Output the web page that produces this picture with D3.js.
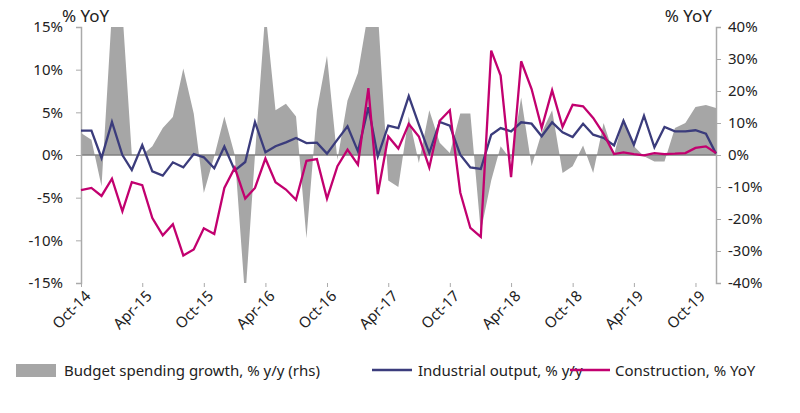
<!DOCTYPE html>
<html>
<head>
<meta charset="utf-8">
<script src="https://cdn.jsdelivr.net/npm/d3@7"></script>
<style>
  body { margin: 0; background: #fff; }
  text { font-family: "Noto Sans", sans-serif; fill: #222; }
</style>
</head>
<body>
<svg id="chart" width="800" height="413"></svg>
<script>
// months Oct-14 .. Dec-19
const months = d3.range(63).map(i => new Date(2014, 9 + i, 1));
const tickLabels = ['Oct-14', 'Apr-15', 'Oct-15', 'Apr-16', 'Oct-16', 'Apr-17', 'Oct-17', 'Apr-18', 'Oct-18', 'Apr-19', 'Oct-19'];

// Industrial output, % y/y (lhs)
const industry = [2.85, 2.85, -0.35, 3.87, 0, -1.76, 1.17, -1.91, -2.42, -0.86, -1.45, 0.12, -0.27, -1.56, 0.98, -1.8,
  -0.82, 3.87, 0.31, 1.02, 1.48, 2.0, 1.4, 1.45, 0.16, 1.8, 3.36, 0.43, 5.6, -0.16, 3.44, 3.16,
  6.9, 3.55, 0.23, 3.87, 3.44, 0.04, -1.45, -1.64, 2.38, 3.16, 2.77, 3.83, 3.67, 2.19, 3.83, 2.66,
  2.1, 3.67, 2.38, 2.0, 1.13, 4.0, 1.2, 4.6, 0.9, 3.28, 2.77, 2.77, 2.9, 2.5, 0.16];

// Construction, % YoY (rhs)
const construction = [-11.0, -10.3, -12.8, -7.4, -17.6, -8.5, -9.4, -19.7, -25.1, -21.6, -31.4, -29.5, -22.9, -24.7, -10.3, -4.0,
  -13.6, -10.3, -1.1, -8.5, -10.8, -14.0, -1.8, -1.3, -13.6, -3.5, 1.7, -3.0, 20.9, -12.2, 5.8, 2.0,
  9.7, 5.8, -3.9, 10.7, 14.0, -11.7, -22.8, -25.6, 32.6, 24.8, -6.9, 29.3, 20.6, 8.4, 20.2, 8.8,
  15.7, 15.2, 11.6, 6.6, 0.3, 0.8, 0.3, -0.1, 0.6, 0.3, 0.4, 0.6, 2.2, 2.7, 0.6];

// Budget spending growth, % y/y (rhs)
const budget = [6.9, 4.8, -9.8, 45, 45, 0, 0, 2.7, 8.4, 11.9, 27, 13, -11.9, -0.4, 12, 0,
  -45, 0, 45, 14, 16, 12, -26, 14, 31, -1.5, 17, 25.6, 45, 45, -8, -10,
  12, -2.5, 14, 3.8, 0.6, 13, 13, -24, -8, 2.7, -1.5, 18, -3.5, 7, 14, -5.6,
  -3.5, 3, -5.6, 10, 0, 11.6, 2.7, -0.4, -2, -2, 8.4, 10, 15, 15.6, 14.7];

const leftTicks = [-15, -10, -5, 0, 5, 10, 15];
const rightTicks = [-40, -30, -20, -10, 0, 10, 20, 30, 40];

const svg = d3.select('#chart');
const pLeft = 81, pRight = 716, pTop = 27, pBottom = 283;

const x = d3.scaleTime().domain([months[0], months[months.length - 1]]).range([pLeft, pRight]);
const yL = d3.scaleLinear().domain([-15, 15]).range([pBottom, pTop]);
const yR = d3.scaleLinear().domain([-40, 40]).range([pBottom, pTop]);

svg.append('clipPath').attr('id', 'plot')
  .append('rect').attr('x', pLeft).attr('y', pTop).attr('width', pRight - pLeft).attr('height', pBottom - pTop);

// budget area
svg.append('path')
  .datum(budget)
  .attr('clip-path', 'url(#plot)')
  .attr('fill', '#a6a6a6')
  .attr('d', d3.area().x((d, i) => x(months[i])).y0(yR(0)).y1(d => yR(d)));

// zero line
svg.append('line')
  .attr('x1', pLeft).attr('x2', pRight).attr('y1', yL(0)).attr('y2', yL(0))
  .attr('stroke', '#7f7f7f').attr('stroke-width', 1.5);

// axes
const axL = svg.append('g').attr('transform', `translate(${pLeft},0)`)
  .call(d3.axisLeft(yL).tickValues(leftTicks).tickSize(5).tickFormat(d => d + '%'));
const axR = svg.append('g').attr('transform', `translate(${pRight},0)`)
  .call(d3.axisRight(yR).tickValues(rightTicks).tickSize(5).tickFormat(d => d + '%'));
[axL, axR].forEach(a => {
  a.select('.domain').attr('stroke', '#aaa').attr('stroke-width', 1.5);
  a.selectAll('.tick line').attr('stroke', '#aaa');
  a.selectAll('text').style('font-size', '15px').attr('fill', '#222');
});
axL.selectAll('text').attr('x', -18);
axR.selectAll('text').attr('x', 12);

// x labels
const tickMonths = d3.range(0, 63, 6).map(i => months[i]);
const axB = svg.append('g').attr('transform', `translate(0,${pBottom})`)
  .call(d3.axisBottom(x).tickValues(tickMonths).tickSize(4).tickFormat((d, i) => tickLabels[i]));
axB.select('.domain').remove();
axB.selectAll('.tick line').attr('stroke', '#aaa');
axB.selectAll('text')
  .style('font-size', '15px').attr('fill', '#222')
  .attr('text-anchor', 'end').attr('dy', 0).attr('y', 0)
  .attr('transform', 'translate(10,14) rotate(-45)');

// lines
const lineL = d3.line().x((d, i) => x(months[i])).y(d => yL(d));
const lineR = d3.line().x((d, i) => x(months[i])).y(d => yR(d));
svg.append('path').datum(industry).attr('d', lineL)
  .attr('fill', 'none').attr('stroke', '#3b3c7c').attr('stroke-width', 2.3);
svg.append('path').datum(construction).attr('d', lineR)
  .attr('fill', 'none').attr('stroke', '#c2006f').attr('stroke-width', 2.3);

// axis titles
svg.append('text').attr('x', 62).attr('y', 22).style('font-size', '17px').text('% YoY');
svg.append('text').attr('x', 712).attr('y', 22).attr('text-anchor', 'end').style('font-size', '17px').text('% YoY');

// legend
const lg = svg.append('g').style('font-size', '15px');
lg.append('rect').attr('x', 16).attr('y', 364).attr('width', 40).attr('height', 13).attr('fill', '#a6a6a6');
lg.append('text').attr('x', 64).attr('y', 376).text('Budget spending growth, % y/y (rhs)');
lg.append('line').attr('x1', 372).attr('x2', 412).attr('y1', 370).attr('y2', 370).attr('stroke', '#3b3c7c').attr('stroke-width', 2.3);
lg.append('text').attr('x', 418).attr('y', 376).text('Industrial output, % y/y');
lg.append('line').attr('x1', 570).attr('x2', 610).attr('y1', 370).attr('y2', 370).attr('stroke', '#c2006f').attr('stroke-width', 2.3);
lg.append('text').attr('x', 615).attr('y', 376).text('Construction, % YoY');
</script>
</body>
</html>
